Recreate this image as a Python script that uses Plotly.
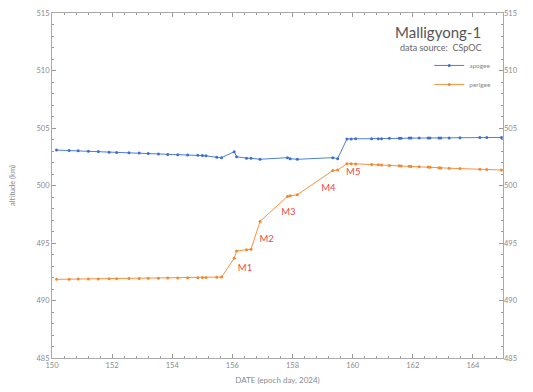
import plotly.graph_objects as go

days = [150.15, 150.57, 150.87, 151.21, 151.54, 151.90, 152.15, 152.56, 152.90, 153.20,
        153.54, 153.85, 154.18, 154.51, 154.85, 155.00, 155.12, 155.48, 155.64, 156.06,
        156.14, 156.47, 156.62, 156.92, 157.83, 157.92, 158.16, 159.34, 159.50, 159.81,
        159.95, 160.10, 160.63, 160.85, 160.96, 161.22, 161.55, 161.61, 161.88, 161.94,
        162.21, 162.51, 162.57, 162.87, 162.93, 163.21, 163.57, 164.23, 164.46, 164.95]

apogee = [503.08, 503.05, 503.03, 502.98, 502.95, 502.90, 502.88, 502.84, 502.82, 502.78,
          502.74, 502.70, 502.68, 502.65, 502.62, 502.60, 502.58, 502.45, 502.42, 502.94,
          502.50, 502.38, 502.37, 502.28, 502.42, 502.33, 502.28, 502.42, 502.33, 504.05,
          504.05, 504.06, 504.06, 504.07, 504.07, 504.10, 504.10, 504.10, 504.12, 504.12,
          504.12, 504.13, 504.13, 504.14, 504.14, 504.14, 504.15, 504.17, 504.18, 504.18]

perigee = [491.84, 491.85, 491.86, 491.87, 491.88, 491.89, 491.90, 491.91, 491.92, 491.93,
           491.94, 491.95, 491.96, 491.97, 491.98, 491.99, 492.00, 492.02, 492.04, 493.67,
           494.30, 494.42, 494.45, 496.88, 499.05, 499.10, 499.20, 501.30, 501.35, 501.90,
           501.90, 501.88, 501.82, 501.80, 501.78, 501.75, 501.72, 501.70, 501.68, 501.66,
           501.63, 501.60, 501.58, 501.55, 501.53, 501.50, 501.47, 501.42, 501.40, 501.35]

maneuver_labels = ["M1", "M2", "M3", "M4", "M5"]
maneuver_days = [156.42, 157.14, 157.86, 159.19, 160.02]
maneuver_alt = [492.8, 495.3, 497.6, 499.75, 501.15]

x_ticks = [150, 152, 154, 156, 158, 160, 162, 164]
y_ticks = [485, 490, 495, 500, 505, 510, 515]

FONT = "Lato, 'Open Sans', sans-serif"
BLUE = "#3b6fd6"
ORANGE = "#f5862e"
RED = "#f04a3a"
GRAY = "#8a8a8a"

fig = go.Figure()
fig.add_trace(go.Scatter(x=days, y=apogee, mode="lines+markers", name="apogee",
                         line=dict(color=BLUE, width=0.9), marker=dict(color=BLUE, size=3)))
fig.add_trace(go.Scatter(x=days, y=perigee, mode="lines+markers", name="perigee",
                         line=dict(color=ORANGE, width=0.9), marker=dict(color=ORANGE, size=3)))
fig.add_trace(go.Scatter(x=[150, 165], y=[485, 515], yaxis="y2", mode="markers",
                         marker=dict(opacity=0), showlegend=False, hoverinfo="skip"))
fig.add_trace(go.Scatter(x=maneuver_days, y=maneuver_alt, mode="text", text=maneuver_labels,
                         textfont=dict(color=RED, size=9.5, family=FONT), showlegend=False))

axis_common = dict(showgrid=False, zeroline=False, showline=True, linecolor="#aaaaaa",
                   linewidth=1, ticks="inside", ticklen=4, tickcolor="#999999",
                   automargin=False,
                   tickfont=dict(size=7.5, color=GRAY, family=FONT))

# page body has an 8px margin; the figure is sized so that it ends at the window edge
fig.update_layout(
    width=525, height=384,
    margin=dict(l=44, r=30, t=5, b=34, autoexpand=False),
    plot_bgcolor="white", paper_bgcolor="white",
    font=dict(family=FONT, color=GRAY),
    xaxis=dict(range=[150, 165], tickvals=x_ticks, mirror="ticks",
               minor=dict(dtick=0.4, tick0=150, ticks="inside", ticklen=2, tickcolor="#999999"),
               title=dict(text="DATE (epoch day, 2024)", font=dict(size=8, color=GRAY), standoff=8),
               **axis_common),
    yaxis=dict(range=[485, 515], tickvals=y_ticks, mirror="ticks",
               minor=dict(dtick=1, ticks="inside", ticklen=2, tickcolor="#999999"),
               title=dict(text="altitude (km)", font=dict(size=7.5, color=GRAY), standoff=20),
               **axis_common),
    yaxis2=dict(range=[485, 515], tickvals=y_ticks, overlaying="y", side="right",
                showgrid=False, zeroline=False, showline=False, ticks="", automargin=False,
                tickfont=dict(size=7.5, color=GRAY, family=FONT)),
    legend=dict(x=0.985, y=0.89, xanchor="right", yanchor="top",
                font=dict(size=6.5, color=GRAY, family=FONT), bgcolor="rgba(0,0,0,0)",
                itemwidth=30, tracegroupgap=0),
    showlegend=True,
    annotations=[
        dict(text="Malligyong-1", x=0.955, y=0.945, xref="paper", yref="paper",
             xanchor="right", yanchor="middle", showarrow=False,
             font=dict(size=15, color="#555555", family=FONT)),
        dict(text="data source:  CSpOC", x=0.955, y=0.900, xref="paper", yref="paper",
             xanchor="right", yanchor="middle", showarrow=False,
             font=dict(size=9, color="#666666", family=FONT)),
    ],
)

fig.write_html("out.html")
